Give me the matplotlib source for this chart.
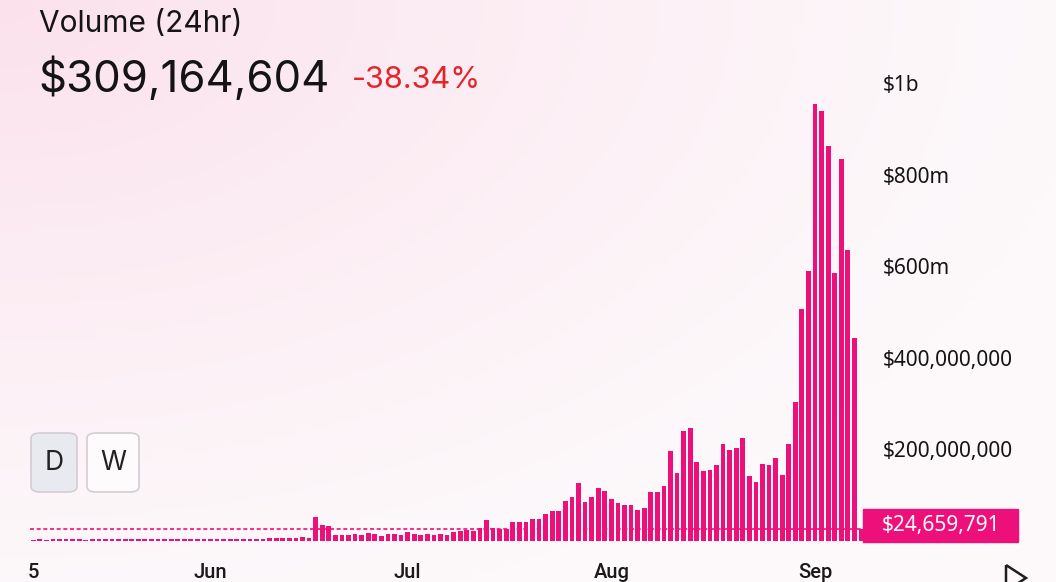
import numpy as np
import pandas as pd
import matplotlib as mpl
mpl.use('Agg')
import matplotlib.pyplot as plt
import matplotlib.dates as mdates
import matplotlib.transforms as mtrans
from matplotlib.patches import Rectangle, FancyBboxPatch, Polygon

######################
## data (values in $m)
######################

dates = pd.date_range('2023-05-05', '2023-09-08', freq='D')

vol_may = [2.1, 2.4, 2.0, 2.6, 2.3, 2.2, 2.8, 2.5, 2.1, 2.4, 2.9, 2.6, 2.3, 2.2,
           2.7, 3.0, 2.5, 2.4, 2.8, 3.1, 2.6, 2.9, 3.3, 2.7, 2.5, 3.0, 3.2]
vol_jun = [3.4, 3.0, 3.6, 3.2, 3.9, 3.5, 3.3, 4.1, 3.7, 4.4, 5.8, 5.2, 6.3, 5.6,
           6.8, 6.1, 51, 33, 32, 11, 13, 13, 15, 12, 17, 14, 10, 15, 14, 13]
vol_jul = [18, 15, 12, 14, 12, 14, 12, 18, 20, 22, 21, 27, 44, 28, 26, 26, 40,
           40, 40, 46, 47, 57, 64, 64, 87, 95, 125, 84, 95, 114, 109]
vol_aug = [90, 81, 77, 77, 66, 70, 106, 106, 120, 195, 148, 240, 246, 172, 151,
           155, 166, 210, 197, 203, 225, 141, 127, 168, 166, 181, 144, 210, 302,
           505, 589]
vol_sep = [955, 938, 862, 585, 833, 634, 443, 24.659791]

volume = np.array(vol_may + vol_jun + vol_jul + vol_aug + vol_sep) * 1e6
last_value = volume[-1]

header_title = 'Volume (24hr)'
header_value = '$309,164,604'
header_change = '-38.34%'
last_label = '$24,659,791'

month_ticks = ['2023-05-05', '2023-06-01', '2023-07-01', '2023-08-01', '2023-09-01']
month_labels = ['5', 'Jun', 'Jul', 'Aug', 'Sep']

y_ticks = [200e6, 400e6, 600e6, 800e6, 1e9]
y_labels = ['$200,000,000', '$400,000,000', '$600m', '$800m', '$1b']

######################
## setup
######################

W, H = 1056, 582
PINK = '#ee107a'
TXT = '#141414'

def fx(x): return x / W
def fy(y): return 1 - y / H

fig = plt.figure(figsize=(W / 100, H / 100), dpi=100)

# background gradient (pink at top-left fading to white)
bg = fig.add_axes([0, 0, 1, 1], zorder=-1)
gx, gy = np.meshgrid(np.linspace(0, 1, 300), np.linspace(0, 1, 170))
r = np.sqrt((gx * W / 1100.0) ** 2 + (gy * H / 640.0) ** 2)
f = np.clip(1 - r, 0, 1) ** 1.2
base = np.array([253, 249, 251]) / 255.0
pink = np.array([251, 225, 236]) / 255.0
img = base[None, None, :] + (pink - base)[None, None, :] * f[:, :, None]
bg.imshow(img, extent=[0, 1, 0, 1], aspect='auto', origin='upper')
bg.axis('off')

ax = fig.add_axes([0, fy(540.5), fx(870), fy(60) - fy(540.5)])
ax.patch.set_alpha(0)

xnum = mdates.date2num(dates)
sep1 = mdates.date2num(pd.Timestamp('2023-09-01'))
px_day = 6.57

ax.bar(xnum, volume, width=0.72, color=PINK, linewidth=0, zorder=2)
ax.set_xlim(sep1 - 815 / px_day, sep1 + (870 - 815) / px_day)
ax.set_ylim(0, (540.5 - 60) / 91.5 * 200e6)

# current value dashed line
ax.hlines(last_value, xnum[0] - 0.45, xnum[-1] + 0.3, colors=PINK,
          linestyles=(0, (2.4, 1.6)), linewidth=1.2, zorder=3)

for s in ax.spines.values():
    s.set_visible(False)

ax.set_xticks(mdates.date2num(pd.to_datetime(month_ticks)))
ax.set_xticklabels(month_labels, fontfamily='Roboto', fontweight='medium',
                   fontsize=14.5, color='#1a1a1a')
ax.tick_params(axis='x', length=0, pad=16.5)

ax.yaxis.tick_right()
ax.set_yticks(y_ticks)
ax.set_yticklabels(y_labels, fontfamily='Noto Sans', fontsize=15, color=TXT)
ax.tick_params(axis='y', length=0, pad=9)

# last value label box
units_px = 200e6 / 91.5
bt = mtrans.blended_transform_factory(fig.transFigure, ax.transData)
ax.add_patch(Rectangle((fx(863), last_value - 12.5 * units_px), fx(1018) - fx(863),
                       33 * units_px, transform=bt, color=PINK, clip_on=False, zorder=4))
ax.text(fx(882), last_value + 4 * units_px, last_label, transform=bt, color='white',
        fontsize=15, family='Noto Sans', va='center', ha='left', zorder=5)

######################
## header
######################

fig.text(fx(39), fy(31.5), header_title, fontsize=21.5, family='Inter', color=TXT, va='baseline')
fig.text(fx(38), fy(91.5), header_value, fontsize=31.5, family='Inter', color=TXT, va='baseline')
fig.text(fx(352), fy(88.5), header_change, fontsize=22, family='Inter', color='#e3242b', va='baseline')

# D / W buttons
for (x0, x1, label, face) in [(31, 77, 'D', '#e9eaf0'), (87, 139, 'W', '#fefbfd')]:
    fig.patches.append(FancyBboxPatch((fx(x0), fy(492)), fx(x1) - fx(x0), fy(433) - fy(492),
                                      boxstyle='round,pad=0,rounding_size=0.009',
                                      transform=fig.transFigure, facecolor=face,
                                      edgecolor='#d3cdd4', linewidth=1.2))
    fig.text(fx((x0 + x1) / 2), fy(463), label, fontsize=19, family='Inter', color='#222222',
             ha='center', va='center')

# play triangle, bottom right (cut off)
fig.patches.append(Polygon([(fx(1006), fy(565)), (fx(1026), fy(578)), (fx(1006), fy(591))],
                           closed=True, fill=False, edgecolor='#1e1e1e', linewidth=1.8,
                           transform=fig.transFigure))

plt.savefig('out.png', dpi=100)
